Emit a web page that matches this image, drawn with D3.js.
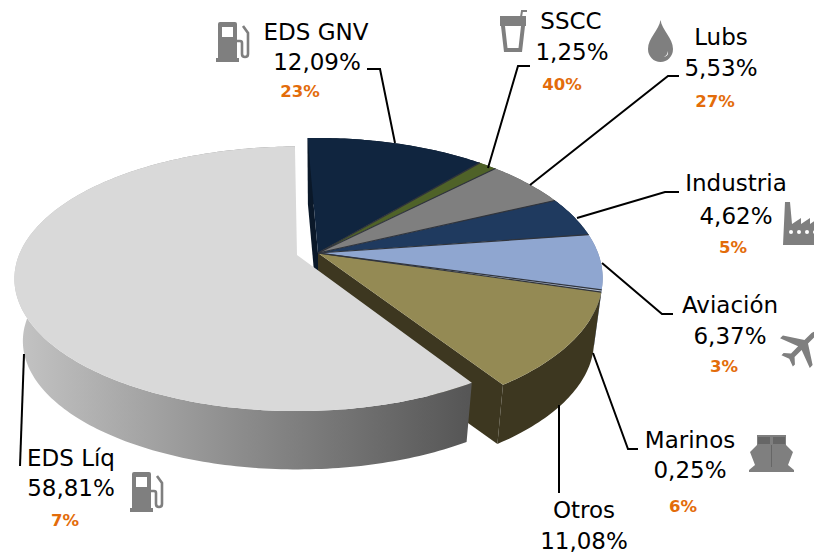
<!DOCTYPE html>
<html>
<head>
<meta charset="utf-8">
<script src="https://cdn.jsdelivr.net/npm/d3@7"></script>
<style>
  html, body { margin: 0; padding: 0; background: #fff; }
  svg { display: block; }
  text { font-family: "DejaVu Sans", sans-serif; }
</style>
</head>
<body>
<div id="chart"></div>
<script>
const categories = ["EDS GNV", "SSCC", "Lubs", "Industria", "Aviación", "Marinos", "Otros", "EDS Líq"];
const shares = [12.09, 1.25, 5.53, 4.62, 6.37, 0.25, 11.08, 58.81];
const growth = [23, 40, 27, 5, 3, 6, null, 7];

const topColors = ["#10253f", "#4f6228", "#7f7f7f", "#1f3a5f", "#8fa6d0", "#b4c0d4", "#948a54", "#d9d9d9"];
const sideColors = ["#0a1829", "#38461c", "#5a5a5a", "#14263f", "#7485a6", "#55647e", "#3d3720", "url(#greySide)"];

// x of name / value / growth centre and the three baselines, per category
const labelPos = [
  { x: [316, 317, 300], y: [40, 70, 97] },
  { x: [571, 572, 562], y: [29, 60, 90] },
  { x: [721, 721, 715], y: [45, 76, 107] },
  { x: [736, 736, 733], y: [191, 224, 253] },
  { x: [730, 730, 724], y: [313, 344, 372] },
  { x: [690, 690, 683], y: [448, 478, 512] },
  { x: [584, 584, 0], y: [518, 549, 0] },
  { x: [71, 71, 65], y: [466, 496, 526] }
];

const leaders = [
  [[367, 69], [380, 69], [395, 143]],
  [[530, 66], [518, 66], [488, 168]],
  [[679, 76], [668, 76], [530, 185]],
  [[679, 192], [665, 192], [577, 218]],
  [[602, 263], [662, 314], [673, 314]],
  [[593, 353], [628, 449], [638, 449]],
  [[559, 405], [559, 493]],
  [[24, 354], [20, 466]]
];

const width = 814, height = 553;
const rad = Math.PI / 180;

const svg = d3.select("#chart").append("svg")
  .attr("width", width)
  .attr("height", height);

const grad = svg.append("defs").append("linearGradient")
  .attr("id", "greySide")
  .attr("gradientUnits", "userSpaceOnUse")
  .attr("x1", 15).attr("x2", 468).attr("y1", 0).attr("y2", 0);
grad.append("stop").attr("offset", 0).attr("stop-color", "#c4c4c4");
grad.append("stop").attr("offset", 0.5).attr("stop-color", "#8c8c8c");
grad.append("stop").attr("offset", 1).attr("stop-color", "#565656");

const startDeg = -2.5;
const slices = d3.pie().sort(null).value(d => d)
  .startAngle(startDeg * rad)
  .endAngle((startDeg + 360) * rad)(shares);

// perspective disc: q squeezes the far side, so apex sits above the ellipse centre
const q = 0.18;
const mainTop = { cx: 318, cy: 253, a: 280, b: 135.7 };
const mainBot = { cx: 318, cy: 316, a: 280 * 0.97, b: 135.7 * 0.97 };
const greyTop = { cx: 297, cy: 255, a: 278, b: 128 };
const greyBot = { cx: 297, cy: 318, a: 278 * 0.97, b: 128 * 0.97 };
const greyTurn = 2 * rad; // exploded slice sits a bit rotated in the original

const project = (disc, t) => {
  const w = 1 + q * Math.cos(t);
  return [disc.cx + disc.a * Math.sin(t) / w, disc.cy - disc.b * Math.cos(t) / w];
};
const arcPts = (disc, t0, t1) => {
  const n = Math.max(2, Math.ceil(Math.abs(t1 - t0) / (1 * rad)));
  return d3.range(n + 1).map(i => project(disc, t0 + (t1 - t0) * i / n));
};
const line = d3.line();
const closed = pts => line(pts) + "Z";
const apex = disc => [disc.cx, disc.cy];

const wallLayer = svg.append("g").attr("class", "walls");
const topLayer = svg.append("g").attr("class", "tops");
const greyLayer = svg.append("g").attr("class", "grey");
const leaderLayer = svg.append("g").attr("class", "leaders");
const iconLayer = svg.append("g").attr("class", "icons").attr("fill", "#7f7f7f");
const textLayer = svg.append("g").attr("class", "labels");

const mainSlices = slices.slice(0, 7);
const greySlice = slices[7];

// cut faces seen through the gap left by the exploded slice
const t0 = mainSlices[0].startAngle;
const t1 = mainSlices[6].endAngle;
[[t0, 0], [t1, 6]].forEach(([t, i]) => {
  wallLayer.append("path")
    .attr("d", closed([apex(mainTop), project(mainTop, t), project(mainBot, t), apex(mainBot)]))
    .attr("fill", sideColors[i]);
});

wallLayer.selectAll("path.side")
  .data(mainSlices)
  .enter()
  .append("path")
  .attr("class", "side")
  .attr("d", d => closed(arcPts(mainTop, d.startAngle, d.endAngle)
    .concat(arcPts(mainBot, d.endAngle, d.startAngle))))
  .attr("fill", d => sideColors[d.index]);

topLayer.selectAll("path")
  .data(mainSlices)
  .enter()
  .append("path")
  .attr("d", d => closed([apex(mainTop)].concat(arcPts(mainTop, d.startAngle, d.endAngle))))
  .attr("fill", d => topColors[d.index]);

// thin dark seams between slices
topLayer.selectAll("line.seam")
  .data(mainSlices.slice(1))
  .enter()
  .append("line")
  .attr("class", "seam")
  .attr("x1", mainTop.cx)
  .attr("y1", mainTop.cy)
  .attr("x2", d => project(mainTop, d.startAngle)[0])
  .attr("y2", d => project(mainTop, d.startAngle)[1])
  .attr("stroke", "#30343c")
  .attr("stroke-width", 1.2);

const g0 = greySlice.startAngle + greyTurn;
const g1 = greySlice.endAngle + greyTurn;
greyLayer.append("path")
  .attr("d", closed(arcPts(greyTop, g0, g1).concat(arcPts(greyBot, g1, g0))))
  .attr("fill", sideColors[7]);
greyLayer.append("path")
  .attr("d", closed([apex(greyTop)].concat(arcPts(greyTop, g0, g1))))
  .attr("fill", topColors[7]);

leaderLayer.selectAll("path")
  .data(leaders)
  .enter()
  .append("path")
  .attr("d", d => line(d))
  .attr("fill", "none")
  .attr("stroke", "#000")
  .attr("stroke-width", 2);

const pct = d3.formatLocale({ decimal: ",", thousands: ".", grouping: [3], currency: ["", ""] }).format(".2f");

categories.forEach((name, i) => {
  const p = labelPos[i];
  const g = textLayer.append("g").attr("text-anchor", "middle");
  g.append("text").attr("x", p.x[0]).attr("y", p.y[0])
    .attr("font-size", 23).attr("fill", "#000").text(name);
  g.append("text").attr("x", p.x[1]).attr("y", p.y[1])
    .attr("font-size", 23).attr("fill", "#000").text(pct(shares[i]) + "%");
  if (growth[i] !== null) {
    g.append("text").attr("x", p.x[2]).attr("y", p.y[2])
      .attr("font-size", 16.5).attr("font-weight", "bold").attr("fill", "#e36c0a")
      .text(growth[i] + "%");
  }
});

// icons, drawn in their own little coordinate boxes
function pump(x, y) {
  const g = iconLayer.append("g").attr("transform", `translate(${x},${y})`);
  g.append("path").attr("fill-rule", "evenodd")
    .attr("d", "M2 2q0-2 2-2h15q2 0 2 2v34h2v4H0v-4h2ZM6 5v10h11V5Z");
  g.append("path").attr("fill", "none").attr("stroke", "#7f7f7f").attr("stroke-width", 2.6)
    .attr("d", "M21 19h3q2 0 2 2v11q0 3 3 3t3-3V11l-5-7");
}
pump(216, 22);
pump(130, 472);

// cup
const cup = iconLayer.append("g").attr("transform", "translate(500,10)");
cup.append("path").attr("fill-rule", "evenodd")
  .attr("d", "M0 6h26v10h-1l-3 26H4L1 16H0ZM5 16l2.5 22h11L21 16Z");
cup.append("path").attr("fill", "none").attr("stroke", "#7f7f7f").attr("stroke-width", 2)
  .attr("d", "M21 7l1-6h5");

// drop
const drop = iconLayer.append("g").attr("transform", "translate(648,20)");
drop.append("path").attr("d", "M12.5 0C14 10 25 18 25 29A12.5 13 0 0 1 0 29C0 18 11 10 12.5 0Z");
drop.append("path").attr("fill", "#fff").attr("d", "M14 37q5 0 6-6q1 6-6 6Z");

// factory, runs off the right edge as in the original
const factory = iconLayer.append("g").attr("transform", "translate(783,202)");
factory.append("path").attr("d", "M2 0h5l2 22l9-6v6l9-6v6l9-6v27H0Z");
[8, 16, 24, 32].forEach(cx => factory.append("circle")
  .attr("cx", cx).attr("cy", 30).attr("r", 2).attr("fill", "#fff"));

// plane
iconLayer.append("path")
  .attr("transform", "translate(802,346) rotate(45)")
  .attr("d", "M-2.5 -16Q0 -24 2.5 -16V-6L21 6V10L2.5 3V13L8 18V21L0 18L-8 21V18L-2.5 13V3L-21 10V6L-2.5 -6Z");

// ship, front view
const ship = iconLayer.append("g").attr("transform", "translate(749,435)");
ship.append("path")
  .attr("d", "M8 0H37V10L44 17L39 30L45 35V37H0V35L6 30L1 17L8 10Z");
ship.append("path").attr("fill", "#666")
  .attr("d", "M9 2H21V9H9ZM24 2H36V9H24Z");
ship.append("path").attr("fill", "none").attr("stroke", "#666").attr("stroke-width", 1)
  .attr("d", "M22.5 10V32");
</script>
</body>
</html>
